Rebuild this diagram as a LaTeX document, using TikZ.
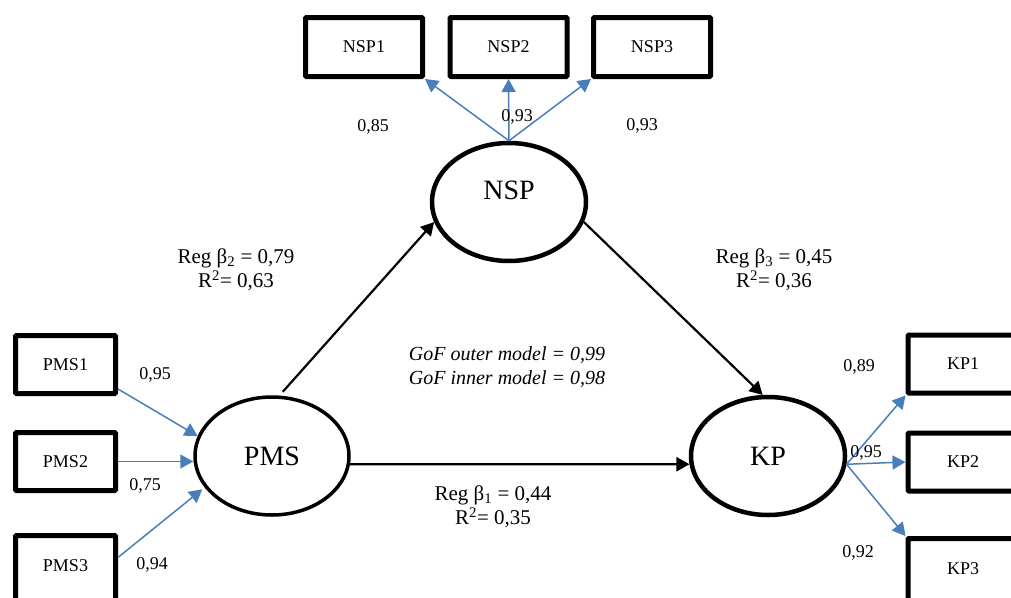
\documentclass[tikz,border=0pt]{standalone}
\usepackage{fontspec}
\setmainfont{Liberation Serif}
\usetikzlibrary{shapes.geometric,arrows.meta}
\definecolor{loadblue}{RGB}{74,126,187}
\tikzset{
  indicator/.style={draw, line width=5pt, rounded corners=1pt, inner sep=0pt, minimum width=100pt, minimum height=58pt, font=\fontsize{18}{20}\selectfont},
  latent/.style={ellipse, draw, line width=4.5pt, inner sep=0pt, minimum width=154pt, minimum height=118pt, font=\fontsize{28}{30}\selectfont},
  loading/.style={->, draw=loadblue, fill=loadblue, line width=1.5pt},
  structural/.style={->, line width=2.2pt},
  coef/.style={font=\fontsize{18}{20}\selectfont},
  regtext/.style={align=center, font=\fontsize{21}{24}\selectfont}
}
\begin{document}
\begin{tikzpicture}[>={Triangle[length=13pt,width=14pt]}, x=1pt, y=-1pt]
\useasboundingbox (0,0) rectangle (1011,597);
% latent variables
\node[latent, line width=3.5pt] (pms) at (272,456) {PMS};
\node[latent, text depth=24pt] (nsp) at (509,202) {NSP}; % text sits above the centre
\node[latent] (kp) at (768,456) {KP};
% indicators
\node[indicator] (pms1) at (65.5,364.5) {PMS1};
\node[indicator] (pms2) at (65.5,461.5) {PMS2};
\node[indicator, minimum height=72pt, text depth=12pt] (pms3) at (65.5,571.5) {PMS3};
\node[indicator, minimum width=117pt, minimum height=59pt] (nsp1) at (364,47) {NSP1};
\node[indicator, minimum width=117pt, minimum height=59pt] (nsp2) at (508.5,47) {NSP2};
\node[indicator, minimum width=117pt, minimum height=59pt] (nsp3) at (652,47) {NSP3};
\node[indicator, minimum width=110pt] (kp1) at (963,364) {KP1};
\node[indicator, minimum width=110pt] (kp2) at (963,462) {KP2};
\node[indicator, minimum width=110pt, minimum height=72pt, text depth=12pt] (kp3) at (963,574.5) {KP3};
% inner model
\draw[structural, shorten <=5pt] (pms.83) -- (nsp.195);
\draw[structural] (nsp.-15) -- (kp.95);
\draw[structural] (pms.-6) -- (kp.186);
% outer model
\draw[loading] (pms1.-25) -- (pms.165);
\draw[loading] (pms2.east) -- (pms2.east -| pms.west);
\draw[loading, shorten >=3pt] (pms3.15) -- (pms.205);
\draw[loading] (nsp.north) -- (nsp1.south east);
\draw[loading] (nsp.north) -- (nsp2.south);
\draw[loading] (nsp.north) -- (nsp3.south west);
\draw[loading] (kp.-6) -- (kp1.south west);
\draw[loading] (kp.-6) -- (kp2.west);
\draw[loading] (kp.-6) -- (kp3.north west);
% loadings
\node[coef] (lpms1) at (155,375) {0,95};
\node[coef] (lpms2) at (145,486) {0,75};
\node[coef] (lpms3) at (152,565) {0,94};
\node[coef] (lnsp1) at (373,127) {0,85};
\node[coef] (lnsp2) at (517,117) {0,93};
\node[coef] (lnsp3) at (642,126) {0,93};
\node[coef] (lkp1) at (859,367) {0,89};
\node[coef] (lkp2) at (866,453) {0,95};
\node[coef] (lkp3) at (858,553) {0,92};
% path coefficients and fit
\node[regtext] (reg2) at (236,270) {Reg β\textsubscript{2} = 0,79\\R\textsuperscript{2}= 0,63};
\node[regtext] (reg3) at (774,270) {Reg β\textsubscript{3} = 0,45\\R\textsuperscript{2}= 0,36};
\node[regtext] (reg1) at (493,507) {Reg β\textsubscript{1} = 0,44\\R\textsuperscript{2}= 0,35};
\node[regtext, font=\fontsize{20}{24}\selectfont\itshape] (gof) at (507,367) {GoF outer model = 0,99\\GoF inner model = 0,98};
\end{tikzpicture}
\end{document}
